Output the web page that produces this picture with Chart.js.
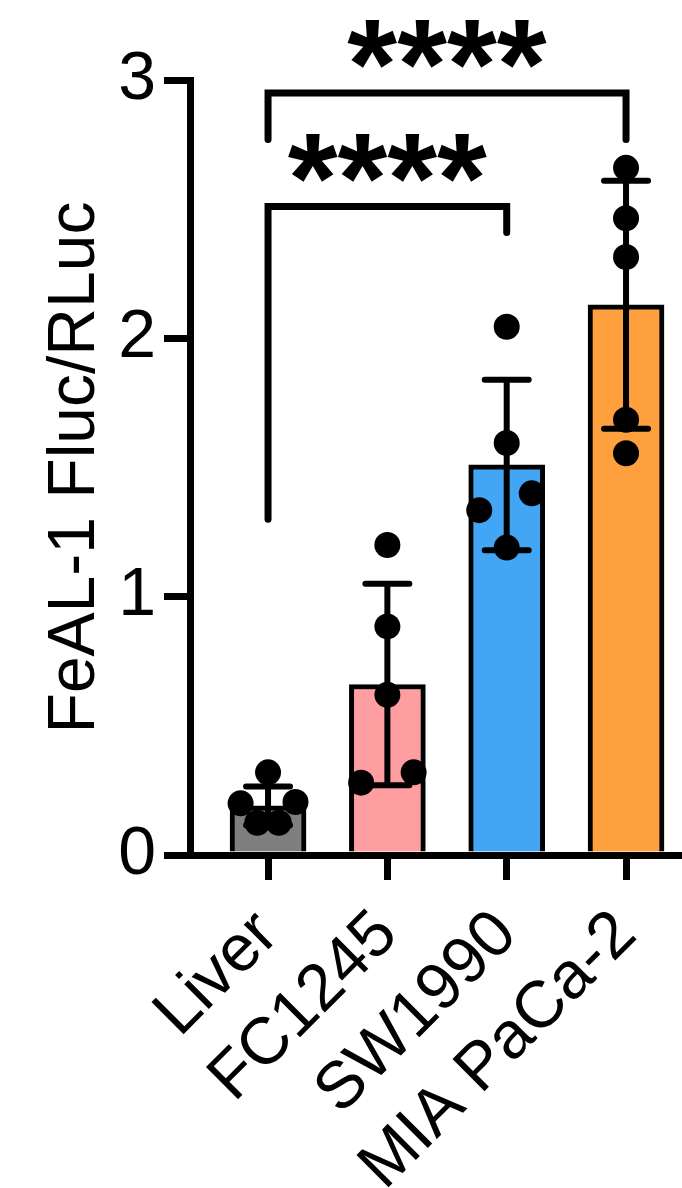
<!DOCTYPE html>
<html>
<head>
<meta charset="utf-8">
<script src="https://cdn.jsdelivr.net/npm/chart.js@4.4.1/dist/chart.umd.min.js"></script>
<style>
  html,body{margin:0;padding:0;background:#fff}
  #wrap{width:682px;height:1188px}
</style>
</head>
<body>
<div id="wrap"><canvas id="chart" width="682" height="1188"></canvas></div>
<script>
/* ====== DATA ====== */
const categories = ["Liver", "FC1245", "SW1990", "MIA PaCa-2"];
const means      = [0.19, 0.66, 1.51, 2.13];
const sds        = [0.075, 0.39, 0.33, 0.48];
const yTicks     = [0, 1, 2, 3];
// individual replicates per group
const liverPts = [0.32, 0.20, 0.205, 0.125, 0.125];
const fcPts    = [1.20, 0.885, 0.62, 0.28, 0.32];
const swPts    = [2.045, 1.595, 1.40, 1.335, 1.19];
const miaPts   = [2.66, 2.465, 2.315, 1.685, 1.555];
const points   = [liverPts, fcPts, swPts, miaPts];
// horizontal spread of dots, in category units
const jitter = [
  [0, -0.23, 0.23, -0.09, 0.09],
  [0, 0, 0, -0.22, 0.22],
  [0, 0, 0.21, -0.23, 0],
  [0, 0, 0, 0, 0]
];
// significance brackets: groups compared + label
const sigPairs  = [[0, 3], [0, 2]];
const sigLabels = ["****", "****"];

/* ====== STYLE ====== */
const barColors = ["#7f7f7f", "#ff9ea1", "#43a6f5", "#ffa03f"];
const FONT = "'Liberation Sans', Arial, sans-serif";
// bracket geometry in data units: [bar top, left leg end, right leg end, label centre]
const bracketGeom = [
  [2.95, 2.77, 2.77, 3.14],
  [2.51, 1.30, 2.41, 2.70]
];

/* ====== PLUGINS ====== */
const errorBars = {
  id: "errorBars",
  afterDatasetDraw(chart, args){
    if (args.index !== 0) return;
    const {ctx, scales:{x, y}} = chart;
    ctx.save();
    ctx.strokeStyle = "#000"; ctx.lineWidth = 6; ctx.lineCap = "round";
    means.forEach((m, i)=>{
      const px = x.getPixelForValue(i);
      const hi = y.getPixelForValue(m + sds[i]), lo = y.getPixelForValue(m - sds[i]);
      ctx.beginPath();
      ctx.moveTo(px, hi); ctx.lineTo(px, lo);
      ctx.moveTo(px - 22, hi); ctx.lineTo(px + 22, hi);
      ctx.moveTo(px - 22, lo); ctx.lineTo(px + 22, lo);
      ctx.stroke();
    });
    ctx.restore();
  }
};

const brackets = {
  id: "brackets",
  afterDraw(chart){
    const {ctx, scales:{x, y}} = chart;
    ctx.save();
    ctx.strokeStyle = "#000"; ctx.fillStyle = "#000";
    ctx.lineWidth = 7; ctx.lineCap = "round"; ctx.lineJoin = "miter";
    sigPairs.forEach(([a, b], k)=>{
      const [top, legA, legB, lab] = bracketGeom[k];
      const xa = x.getPixelForValue(a), xb = x.getPixelForValue(b);
      ctx.beginPath();
      ctx.moveTo(xa, y.getPixelForValue(legA));
      ctx.lineTo(xa, y.getPixelForValue(top));
      ctx.lineTo(xb, y.getPixelForValue(top));
      ctx.lineTo(xb, y.getPixelForValue(legB));
      ctx.stroke();
      // label centred on its ink box
      ctx.font = `bold 128px ${FONT}`;
      ctx.textAlign = "left"; ctx.textBaseline = "alphabetic";
      const m = ctx.measureText(sigLabels[k]);
      const w = m.actualBoundingBoxLeft + m.actualBoundingBoxRight;
      const cx = (xa + xb) / 2, cy = y.getPixelForValue(lab);
      ctx.fillText(sigLabels[k], cx - w/2 + m.actualBoundingBoxLeft,
        cy + (m.actualBoundingBoxAscent - m.actualBoundingBoxDescent)/2);
    });
    ctx.restore();
  }
};

/* ====== CHART ====== */
const barData = means.map((m, i)=>({x: i, y: m}));
const dotData = points.flatMap((arr, i)=>arr.map((v, j)=>({x: i + jitter[i][j], y: v})));

new Chart(document.getElementById("chart"), {
  data: {
    datasets: [
      { type: "bar", data: barData, backgroundColor: barColors, borderColor: "#000",
        borderWidth: 5, barThickness: 76, order: 1 },
      { type: "scatter", data: dotData, pointRadius: 13, pointHoverRadius: 13,
        backgroundColor: "#000", borderWidth: 0, order: 0, clip: false }
    ]
  },
  options: {
    responsive: false, animation: false, events: [],
    layout: { autoPadding: false, padding: { top: 80, left: 0, right: 0, bottom: 0 } },
    plugins: { legend: { display: false }, tooltip: { enabled: false } },
    scales: {
      x: {
        type: "linear", min: -0.654, max: 3.469, offset: false,
        afterBuildTicks: s => { s.ticks = categories.map((_, i)=>({value: i})); },
        afterFit: s => { s.height = 333; s.paddingLeft = 0; s.paddingRight = 0; },
        border: { display: true, color: "#000", width: 7 },
        grid: { display: true, offset: false, drawOnChartArea: false, drawTicks: true, tickLength: 25,
                color: "#000", lineWidth: 7 },
        ticks: { autoSkip: false, minRotation: 45, maxRotation: 45, padding: 16, color: "#000",
                 font: { family: FONT, size: 66 }, callback: v => categories[v] ?? "" }
      },
      y: {
        min: 0, max: 3,
        afterBuildTicks: s => { s.ticks = yTicks.map(v=>({value: v})); },
        afterFit: s => { s.width = 190; },
        border: { display: true, color: "#000", width: 7 },
        grid: { display: true, drawOnChartArea: false, drawTicks: true, tickLength: 26,
                color: "#000", lineWidth: 7 },
        ticks: { padding: 8, color: "#000", font: { family: FONT, size: 68 } },
        title: { display: true, text: "FeAL-1 Fluc/RLuc", color: "#000",
                 font: { family: FONT, size: 66 }, padding: { top: 36, bottom: 0 } }
      }
    }
  },
  plugins: [errorBars, brackets]
});
</script>
</body>
</html>
